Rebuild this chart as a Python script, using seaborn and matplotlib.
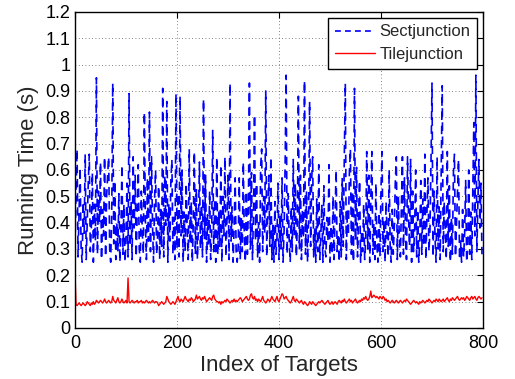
import numpy as np
import pandas as pd
import matplotlib
matplotlib.use("Agg")
import matplotlib.pyplot as plt
import seaborn as sns

# running time of Sectjunction, one value every 2 targets (index 0..798)
sect_time = [
    0.31, 0.52, 0.68, 0.27, 0.44, 0.61, 0.30, 0.25, 0.48, 0.36, 0.66, 0.26, 0.41, 0.55, 0.66, 0.29, 0.38, 0.59, 0.25, 0.47,
    0.33, 0.95, 0.28, 0.52, 0.40, 0.63, 0.26, 0.45, 0.35, 0.65, 0.27, 0.50, 0.58, 0.65, 0.30, 0.25, 0.43, 0.93, 0.32, 0.56,
    0.26, 0.40, 0.29, 0.51, 0.25, 0.36, 0.62, 0.28, 0.47, 0.25, 0.33, 0.55, 0.27, 0.89, 0.31, 0.48, 0.26, 0.65, 0.38, 0.58,
    0.27, 0.44, 0.62, 0.30, 0.25, 0.52, 0.36, 0.28, 0.82, 0.41, 0.26, 0.57, 0.33, 0.82, 0.29, 0.65, 0.39, 0.25, 0.49, 0.60,
    0.28, 0.35, 0.54, 0.26, 0.45, 0.31, 0.91, 0.27, 0.58, 0.39, 0.86, 0.25, 0.47, 0.33, 0.56, 0.64, 0.28, 0.42, 0.26, 0.89,
    0.30, 0.51, 0.27, 0.88, 0.35, 0.60, 0.25, 0.44, 0.29, 0.55, 0.38, 0.26, 0.68, 0.32, 0.48, 0.25, 0.41, 0.67, 0.28, 0.53,
    0.26, 0.39, 0.63, 0.30, 0.47, 0.27, 0.87, 0.34, 0.58, 0.25, 0.43, 0.31, 0.52, 0.26, 0.36, 0.75, 0.29, 0.49, 0.25, 0.65,
    0.28, 0.44, 0.31, 0.62, 0.25, 0.50, 0.35, 0.65, 0.27, 0.41, 0.58, 0.26, 0.93, 0.33, 0.46, 0.25, 0.38, 0.57, 0.29, 0.25,
    0.31, 0.57, 0.26, 0.42, 0.29, 0.63, 0.35, 0.25, 0.52, 0.28, 0.47, 0.93, 0.30, 0.59, 0.26, 0.44, 0.81, 0.33, 0.55, 0.27,
    0.40, 0.25, 0.61, 0.68, 0.29, 0.50, 0.36, 0.90, 0.27, 0.45, 0.58, 0.31, 0.65, 0.26, 0.39, 0.25, 0.48, 0.28, 0.34, 0.55,
    0.26, 0.43, 0.30, 0.57, 0.25, 0.37, 0.62, 0.96, 0.28, 0.51, 0.33, 0.25, 0.46, 0.29, 0.64, 0.35, 0.55, 0.27, 0.40, 0.88,
    0.30, 0.58, 0.26, 0.45, 0.34, 0.94, 0.28, 0.52, 0.25, 0.41, 0.86, 0.31, 0.56, 0.65, 0.27, 0.38, 0.25, 0.49, 0.29, 0.62,
    0.26, 0.35, 0.47, 0.25, 0.54, 0.30, 0.27, 0.42, 0.33, 0.62, 0.25, 0.39, 0.28, 0.50, 0.26, 0.44, 0.60, 0.29, 0.36, 0.25,
    0.48, 0.27, 0.57, 0.31, 0.64, 0.93, 0.26, 0.45, 0.35, 0.59, 0.68, 0.28, 0.52, 0.25, 0.91, 0.33, 0.61, 0.27, 0.43, 0.56,
    0.25, 0.37, 0.29, 0.47, 0.26, 0.34, 0.67, 0.30, 0.58, 0.25, 0.49, 0.67, 0.28, 0.40, 0.26, 0.55, 0.31, 0.25, 0.44, 0.27,
    0.53, 0.67, 0.29, 0.41, 0.25, 0.48, 0.35, 0.27, 0.60, 0.31, 0.25, 0.45, 0.28, 0.38, 0.55, 0.65, 0.26, 0.50, 0.33, 0.27,
    0.46, 0.65, 0.28, 0.57, 0.36, 0.26, 0.65, 0.42, 0.31, 0.64, 0.25, 0.52, 0.29, 0.38, 0.60, 0.27, 0.45, 0.25, 0.34, 0.56,
    0.28, 0.49, 0.31, 0.66, 0.26, 0.43, 0.57, 0.29, 0.37, 0.63, 0.93, 0.27, 0.52, 0.34, 0.25, 0.65, 0.30, 0.46, 0.26, 0.58,
    0.92, 0.29, 0.48, 0.36, 0.26, 0.67, 0.31, 0.54, 0.25, 0.42, 0.28, 0.59, 0.66, 0.27, 0.39, 0.50, 0.64, 0.26, 0.33, 0.25,
    0.45, 0.27, 0.36, 0.56, 0.25, 0.30, 0.60, 0.28, 0.44, 0.26, 0.52, 0.78, 0.35, 0.96, 0.29, 0.48, 0.64, 0.38, 0.55, 0.28,
]

# running time of Tilejunction, same indices
tile_time = [
    0.21, 0.09, 0.085, 0.09, 0.095, 0.09, 0.085, 0.09, 0.095, 0.09, 0.085, 0.09, 0.1, 0.095, 0.09, 0.085, 0.095, 0.09, 0.1, 0.09,
    0.095, 0.105, 0.1, 0.095, 0.1, 0.105, 0.1, 0.095, 0.1, 0.11, 0.1, 0.095, 0.1, 0.105, 0.1, 0.095, 0.1, 0.12, 0.105, 0.1,
    0.095, 0.105, 0.115, 0.1, 0.095, 0.1, 0.11, 0.1, 0.095, 0.1, 0.105, 0.095, 0.19, 0.1, 0.095, 0.1, 0.105, 0.1, 0.095, 0.1,
    0.1, 0.105, 0.095, 0.1, 0.1, 0.105, 0.095, 0.1, 0.095, 0.1, 0.105, 0.1, 0.095, 0.1, 0.095, 0.1, 0.105, 0.1, 0.095, 0.1,
    0.1, 0.095, 0.085, 0.09, 0.095, 0.1, 0.095, 0.09, 0.095, 0.1, 0.12, 0.11, 0.1, 0.095, 0.09, 0.095, 0.1, 0.095, 0.09, 0.1,
    0.11, 0.12, 0.105, 0.1, 0.11, 0.105, 0.1, 0.11, 0.12, 0.11, 0.105, 0.1, 0.11, 0.105, 0.115, 0.11, 0.1, 0.105, 0.11, 0.125,
    0.11, 0.115, 0.12, 0.11, 0.105, 0.115, 0.11, 0.12, 0.11, 0.1, 0.105, 0.11, 0.115, 0.11, 0.105, 0.12, 0.125, 0.11, 0.105, 0.1,
    0.1, 0.095, 0.1, 0.09, 0.1, 0.095, 0.1, 0.105, 0.1, 0.11, 0.105, 0.1, 0.095, 0.1, 0.105, 0.1, 0.11, 0.1, 0.105, 0.1,
    0.105, 0.11, 0.115, 0.11, 0.1, 0.105, 0.11, 0.115, 0.12, 0.11, 0.105, 0.11, 0.125, 0.13, 0.115, 0.11, 0.12, 0.105, 0.11, 0.1,
    0.11, 0.105, 0.1, 0.11, 0.12, 0.105, 0.1, 0.095, 0.1, 0.11, 0.105, 0.1, 0.11, 0.12, 0.11, 0.105, 0.1, 0.11, 0.12, 0.105,
    0.1, 0.11, 0.12, 0.13, 0.125, 0.11, 0.115, 0.12, 0.11, 0.105, 0.1, 0.095, 0.1, 0.11, 0.12, 0.105, 0.1, 0.11, 0.105, 0.1,
    0.095, 0.1, 0.105, 0.095, 0.09, 0.1, 0.095, 0.09, 0.085, 0.09, 0.1, 0.095, 0.09, 0.1, 0.095, 0.09, 0.085, 0.09, 0.095, 0.1,
    0.095, 0.1, 0.105, 0.1, 0.095, 0.09, 0.095, 0.1, 0.105, 0.095, 0.09, 0.095, 0.1, 0.09, 0.095, 0.1, 0.095, 0.09, 0.1, 0.105,
    0.1, 0.095, 0.105, 0.1, 0.11, 0.1, 0.095, 0.1, 0.105, 0.11, 0.1, 0.105, 0.095, 0.1, 0.105, 0.11, 0.1, 0.095, 0.1, 0.105,
    0.1, 0.11, 0.105, 0.115, 0.11, 0.12, 0.11, 0.105, 0.11, 0.12, 0.14, 0.115, 0.12, 0.125, 0.12, 0.115, 0.12, 0.115, 0.11, 0.12,
    0.115, 0.11, 0.12, 0.115, 0.105, 0.11, 0.1, 0.105, 0.1, 0.095, 0.1, 0.105, 0.1, 0.095, 0.1, 0.105, 0.1, 0.095, 0.1, 0.105,
    0.1, 0.095, 0.1, 0.105, 0.1, 0.11, 0.105, 0.1, 0.095, 0.09, 0.095, 0.1, 0.105, 0.1, 0.095, 0.1, 0.095, 0.09, 0.1, 0.095,
    0.1, 0.105, 0.1, 0.095, 0.1, 0.105, 0.1, 0.11, 0.105, 0.1, 0.095, 0.1, 0.105, 0.1, 0.11, 0.105, 0.1, 0.11, 0.105, 0.1,
    0.105, 0.11, 0.1, 0.105, 0.11, 0.115, 0.105, 0.1, 0.11, 0.105, 0.115, 0.11, 0.105, 0.11, 0.115, 0.12, 0.11, 0.105, 0.11, 0.115,
    0.11, 0.115, 0.105, 0.11, 0.12, 0.115, 0.11, 0.105, 0.115, 0.12, 0.11, 0.115, 0.12, 0.11, 0.105, 0.115, 0.12, 0.115, 0.11, 0.115,
]

target_index = np.arange(0, 800, 2)
xticks = [0, 200, 400, 600, 800]
yticks = [0, 0.1, 0.2, 0.3, 0.4, 0.5, 0.6, 0.7, 0.8, 0.9, 1, 1.1, 1.2]
ytick_labels = ["0", "0.1", "0.2", "0.3", "0.4", "0.5", "0.6", "0.7", "0.8", "0.9", "1", "1.1", "1.2"]

data = pd.DataFrame({"index": target_index, "Sectjunction": sect_time, "Tilejunction": tile_time})

sns.set_style("white")
plt.rcParams["font.family"] = ["Liberation Sans", "DejaVu Sans"]

fig = plt.figure(figsize=(5.15, 3.79), dpi=100)
ax = fig.add_axes([75 / 515, 51 / 379, 408 / 515, 316 / 379])

sns.lineplot(data=data, x="index", y="Sectjunction", color=(0, 0, 1), linewidth=1.2,
             label="Sectjunction", ax=ax)
sns.lineplot(data=data, x="index", y="Tilejunction", color=(1, 0, 0), linewidth=1,
             label="Tilejunction", ax=ax)
ax.lines[0].set_dashes((5, 3.5))

ax.set_xlim(0, 800)
ax.set_ylim(0, 1.2)
ax.set_xticks(xticks)
ax.set_yticks(yticks)
ax.set_yticklabels(ytick_labels)
ax.tick_params(direction="in", length=4, width=0.8, top=True, right=True, labelsize=13, colors="black")
ax.tick_params(axis="x", pad=5)
ax.grid(True, linestyle=(0, (1, 3)), color="0.35", linewidth=0.6)
for s in ax.spines.values():
    s.set_color("black")
    s.set_linewidth(1)
ax.set_xlabel("Index of Targets", fontsize=16, labelpad=2)
ax.set_ylabel("Running Time (s)", fontsize=16, labelpad=4)

leg = ax.legend(loc="upper right", fontsize=12, frameon=True, fancybox=False,
                borderaxespad=0.35, handlelength=2.4, handletextpad=0.3,
                borderpad=0.4, labelspacing=0.45)
leg.get_lines()[0].set_dashes((3.5, 2.5))
leg.get_frame().set_edgecolor("black")
leg.get_frame().set_linewidth(1)
leg.get_frame().set_alpha(1)

fig.savefig("out.png", dpi=100)
